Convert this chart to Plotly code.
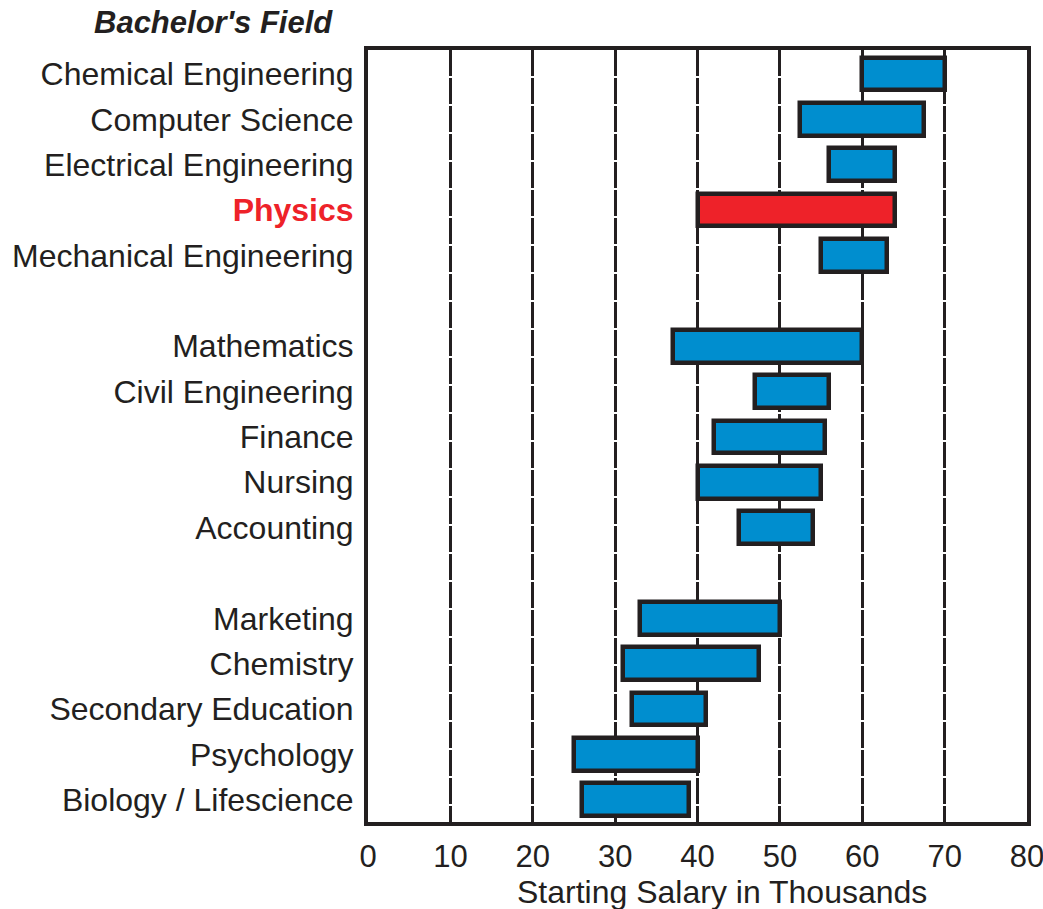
import plotly.graph_objects as go

groups = [
    ["Chemical Engineering", "Computer Science", "Electrical Engineering", "Physics", "Mechanical Engineering"],
    ["Mathematics", "Civil Engineering", "Finance", "Nursing", "Accounting"],
    ["Marketing", "Chemistry", "Secondary Education", "Psychology", "Biology / Lifescience"],
]
low = {
    "Chemical Engineering": 60, "Computer Science": 52.5, "Electrical Engineering": 56,
    "Physics": 40, "Mechanical Engineering": 55,
    "Mathematics": 37, "Civil Engineering": 47, "Finance": 42, "Nursing": 40, "Accounting": 45,
    "Marketing": 33, "Chemistry": 31, "Secondary Education": 32, "Psychology": 25,
    "Biology / Lifescience": 26,
}
high = {
    "Chemical Engineering": 70, "Computer Science": 67.5, "Electrical Engineering": 64,
    "Physics": 64, "Mechanical Engineering": 63,
    "Mathematics": 60, "Civil Engineering": 56, "Finance": 55.5, "Nursing": 55, "Accounting": 54,
    "Marketing": 50, "Chemistry": 47.5, "Secondary Education": 41, "Psychology": 40,
    "Biology / Lifescience": 39,
}
highlight = "Physics"
x_ticks = [0, 10, 20, 30, 40, 50, 60, 70, 80]

BLUE = "#008ECF"
RED = "#EE2229"
INK = "#231F20"

# slot positions: groups separated by one empty slot, top to bottom
order = []
for gi, g in enumerate(groups):
    order.extend(g)
    if gi < len(groups) - 1:
        order.append(None)
n = len(order)
pos = {name: n - 1 - i for i, name in enumerate(order) if name}

names = [nm for nm in order if nm]
ys = [pos[nm] for nm in names]
bases = [low[nm] for nm in names]
lengths = [high[nm] - low[nm] for nm in names]
colors = [RED if nm == highlight else BLUE for nm in names]
ticktext = [
    f"<b><span style='color:{RED}'>{nm}</span></b>" if nm == highlight else nm
    for nm in names
]

fig = go.Figure()
fig.add_trace(go.Bar(
    y=ys, x=lengths, base=bases, orientation="h", width=0.72,
    marker=dict(color=colors, line=dict(color=INK, width=4.5)),
    showlegend=False, hoverinfo="skip",
))

fig.update_layout(
    width=1043, height=909,
    margin=dict(l=368, r=16, t=50, b=87),
    paper_bgcolor="white", plot_bgcolor="white",
    font=dict(family="Liberation Sans, Arial, sans-serif", size=32, color=INK),
    xaxis=dict(
        range=[0, 80], tickvals=x_ticks, ticktext=[str(t) for t in x_ticks],
        showgrid=True, gridcolor=INK, gridwidth=2.5, griddash="26px,2px",
        zeroline=False, showline=True, linecolor=INK, linewidth=4, mirror=True,
        ticks="", ticklen=0, ticklabelstandoff=4,
        ticklabeloverflow="allow",
        tickfont=dict(size=31),
        automargin=False,
    ),
    yaxis=dict(
        range=[-0.49, n - 1 + 0.53], tickvals=ys, ticktext=ticktext,
        showgrid=False, zeroline=False, showline=True, linecolor=INK,
        linewidth=4, mirror=True, ticks="", ticklen=0,
        tickfont=dict(size=32), automargin=False, ticklabelstandoff=4,
    ),
    bargap=0,
)

fig.add_annotation(
    text="<b><i>Bachelor's Field</i></b>", xref="paper", yref="paper",
    x=-0.05, y=1.0, xanchor="right", yanchor="middle", yshift=28,
    showarrow=False, font=dict(size=31, color=INK),
)
fig.add_annotation(
    text="Starting Salary in Thousands", xref="paper", yref="paper",
    x=0.537, y=0, xanchor="center", yanchor="middle", yshift=-70,
    showarrow=False, font=dict(size=32, color=INK),
)

fig.write_html(
    "out.html",
    config={"displayModeBar": False},
    post_script="document.body.style.margin='0';document.body.style.overflow='hidden';",
)
